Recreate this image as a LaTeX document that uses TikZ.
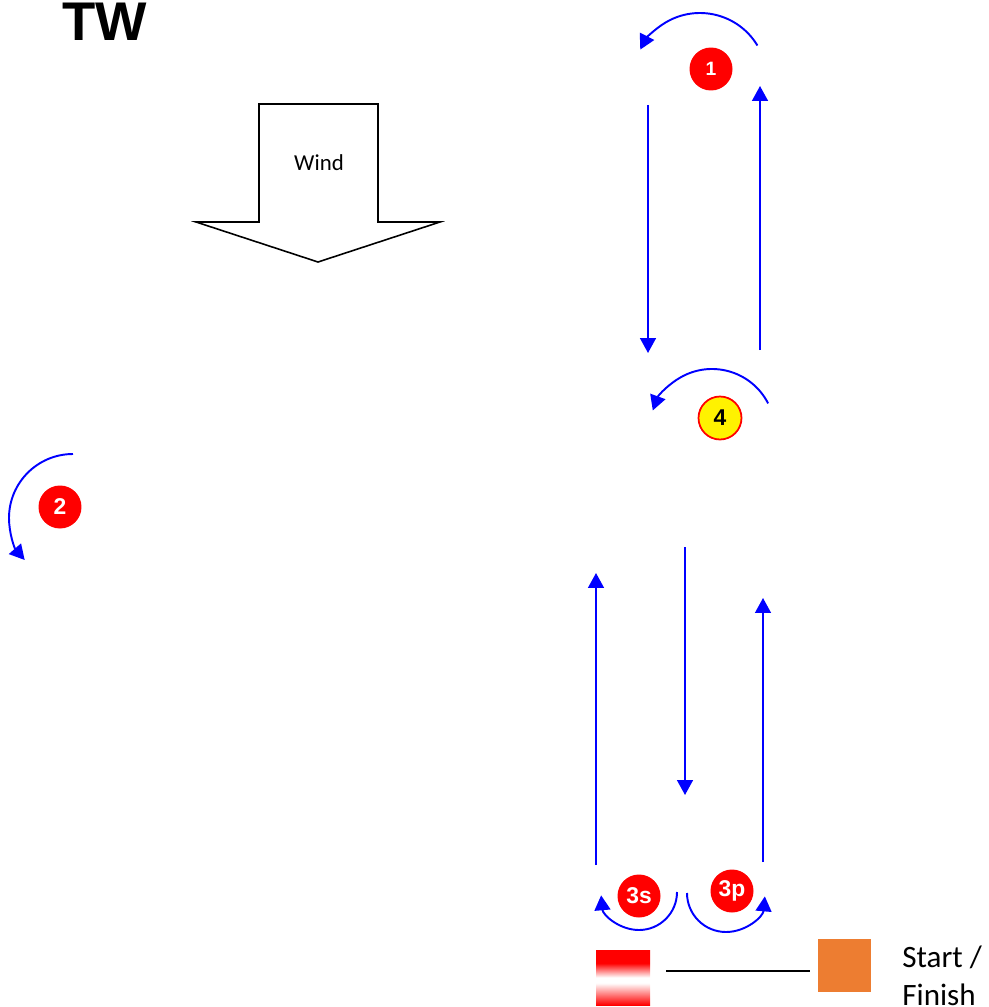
\documentclass[tikz,border=0pt]{standalone}
\usepackage{fontspec}
\setmainfont{Carlito}
\newfontfamily\arialfont{Liberation Sans}
\usetikzlibrary{arrows.meta}
\tikzset{
  leg/.style = {draw=blue, line width=1.1pt, -{Triangle[length=8.5pt,width=9pt]}},
  buoy/.style = {circle, fill=red, text=white, inner sep=0pt, minimum size=0.86cm,
    font=\arialfont\bfseries\fontsize{13}{13}\selectfont},
  gate buoy/.style = {buoy, fill=yellow, draw=red, line width=1pt, text=black},
  outline/.style = {draw=black, line width=0.9pt}
}
\definecolor{boatorange}{HTML}{ED7D31}
\pgfdeclareverticalshading{startpin}{100bp}{color(0bp)=(red); color(25bp)=(red);
  color(45bp)=(white); color(50bp)=(white); color(63bp)=(red); color(100bp)=(red)}

\begin{document}
\begin{tikzpicture}[x=0.02cm, y=0.02cm]
  \useasboundingbox (0,0) rectangle (989,-1007);

  \node (tw) at (105,-22) {\arialfont\bfseries\fontsize{31}{31}\selectfont TW};

  % wind arrow
  \draw[outline] (259,-104) -- (378,-104) -- (378,-222) -- (440,-222) -- (318,-262)
    -- (196,-222) -- (259,-222) -- cycle;
  \node (wind) at (319,-163) {\fontsize{13}{13}\selectfont Wind};

  % buoys
  \node[buoy, font=\arialfont\bfseries\fontsize{11}{11}\selectfont] (m1) at (711,-69) {1};
  \node[gate buoy] (m4) at (720,-418) {4};
  \node[buoy] (m2) at (60,-507) {2};
  \node[buoy] (m3s) at (639,-896) {3s};
  \node[buoy] (m3p) at (732,-891) {3p};

  % legs
  \coordinate (beat1 top) at (648,-105);  \coordinate (beat1 end) at (648,-353);
  \coordinate (beat2 low) at (760,-350);  \coordinate (beat2 end) at (760,-86);
  \coordinate (run top) at (685,-547);    \coordinate (run end) at (685,-795);
  \coordinate (port low) at (596,-865);   \coordinate (port end) at (596,-573);
  \coordinate (stbd low) at (763,-862);   \coordinate (stbd end) at (763,-598);

  \draw[leg] (beat1 top) -- (beat1 end);
  \draw[leg] (beat2 low) -- (beat2 end);
  \draw[leg] (run top) -- (run end);
  \draw[leg] (port low) -- (port end);
  \draw[leg] (stbd low) -- (stbd end);

  % roundings
  \coordinate (r1) at (757.4,-45.5);
  \coordinate (r4) at (768.1,-403.4);
  \coordinate (r2) at (73,-454);
  \coordinate (r3s) at (677,-892);
  \coordinate (r3p) at (687,-893);

  \draw[leg] (r1) arc[start angle=31, end angle=153, radius=67];
  \draw[leg] (r4) arc[start angle=27, end angle=160, radius=63];
  \draw[leg] (r2) arc[start angle=90, end angle=221, radius=64];
  \draw[leg] (r3s) arc[start angle=0, end angle=-175, radius=38];
  \draw[leg] (r3p) arc[start angle=180, end angle=355, radius=39];

  % start / finish line
  \node[shading=startpin, inner sep=0pt, minimum width=1.08cm, minimum height=1.1cm] (pin) at (623,-977.5) {};
  \node[fill=boatorange, inner sep=0pt, minimum size=1.06cm] (boat) at (844.5,-965.5) {};
  \coordinate (line end) at (810,-971);
  \draw[line width=1.1pt, shorten <=0.32cm] (pin.east |- line end) -- (line end);
  \node[anchor=north west, align=left, inner sep=0pt, font=\fontsize{17.7}{21.6}\selectfont] (sf) at (902,-946) {Start /\\Finish};
\end{tikzpicture}
\end{document}
